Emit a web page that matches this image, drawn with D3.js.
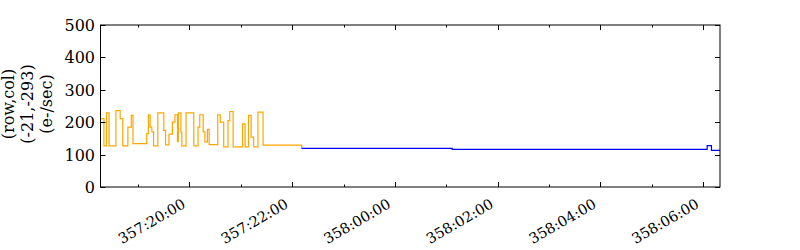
<!DOCTYPE html>
<html><head><meta charset="utf-8">
<script src="https://cdn.jsdelivr.net/npm/d3@7"></script>
<style>body{margin:0;background:#fff}</style>
</head><body>
<svg id="c" width="800" height="250"></svg>
<script>
const orangeTimes = ["357:18:16","357:18:20","357:18:23","357:18:26","357:18:34","357:18:39","357:18:42","357:18:48","357:18:52","357:18:54",
  "357:19:10","357:19:12","357:19:14","357:19:16","357:19:18","357:19:23","357:19:30","357:19:32","357:19:36","357:19:40",
  "357:19:43","357:19:46","357:19:47","357:19:50","357:19:51","357:19:56","357:20:05","357:20:10","357:20:12","357:20:16",
  "357:20:18","357:20:21","357:20:23","357:20:33","357:20:36","357:20:40","357:20:45","357:20:47","357:20:51","357:21:02",
  "357:21:05","357:21:09","357:21:12","357:21:15","357:21:20","357:21:26","357:22:11"];
const orangeValues = [211,127,229,127,236,211,127,185,221,134,
  165,223,185,170,127,229,175,130,163,200,
  223,140,229,170,127,229,127,185,223,170,
  139,178,131,223,200,124,205,233,124,195,
  124,221,154,124,231,129,119];
const blueTimes = ["357:22:11","358:01:07","358:06:05","358:06:10","358:06:20"];
const blueValues = [119,116,128,113,113];
const xTickLabels = ["357:20:00","357:22:00","358:00:00","358:02:00","358:04:00","358:06:00"];
const xMinorLabels = ["357:19:00","357:21:00","357:23:00","358:01:00","358:03:00","358:05:00"];
const yTicks = [0,100,200,300,400,500];
const yLabelLines = ["(row,col)","(-21,-293)","(e-/sec)"];

const toMin = s => { const p = s.split(":").map(Number); return p[0]*1440 + p[1]*60 + p[2]; };

const L = 100.5, R = 720, T = 25, B = 187;
const svg = d3.select("#c");
const font = "DejaVu Serif";

const x = d3.scaleLinear().domain([toMin(orangeTimes[0]), toMin(blueTimes[blueTimes.length-1])]).range([L, R]);
const y = d3.scaleLinear().domain([0, 500]).range([B, T]);

const line = d3.line().x(d => x(d[0])).y(d => y(d[1])).curve(d3.curveStepAfter);
const oData = orangeTimes.map((t,i) => [toMin(t), orangeValues[i]]);
const bData = blueTimes.map((t,i) => [toMin(t), blueValues[i]]);

svg.append("path").attr("d", line(oData)).attr("fill","none").attr("stroke","#FFA500").attr("stroke-width",1.2);
svg.append("path").attr("d", line(bData)).attr("fill","none").attr("stroke","#0000FF").attr("stroke-width",1.2);

// frame
svg.append("rect").attr("x",L).attr("y",T).attr("width",R-L).attr("height",B-T)
  .attr("fill","none").attr("stroke","#000").attr("stroke-width",1);

const g = svg.append("g").attr("stroke","#000").attr("stroke-width",1);
// x ticks
xTickLabels.forEach(s => {
  const px = Math.round(x(toMin(s))) + 0.5;
  g.append("line").attr("x1",px).attr("x2",px).attr("y1",B).attr("y2",B-5);
  g.append("line").attr("x1",px).attr("x2",px).attr("y1",T).attr("y2",T+5);
});
xMinorLabels.forEach(s => {
  const px = Math.round(x(toMin(s))) + 0.5;
  g.append("line").attr("x1",px).attr("x2",px).attr("y1",B).attr("y2",B-2.5);
  g.append("line").attr("x1",px).attr("x2",px).attr("y1",T).attr("y2",T+2.5);
});
// y ticks
yTicks.forEach(v => {
  const py = Math.round(y(v)) + 0.5;
  g.append("line").attr("x1",L).attr("x2",L+5).attr("y1",py).attr("y2",py);
  g.append("line").attr("x1",R).attr("x2",R-5).attr("y1",py).attr("y2",py);
  svg.append("text").attr("x",95).attr("y",py).attr("dy","0.36em").attr("text-anchor","end")
    .attr("font-family",font).attr("font-size",16).attr("fill","#000").text(v);
});
// x tick labels rotated
xTickLabels.forEach(s => {
  const px = x(toMin(s));
  const ax = px - 3, ay = 207;
  svg.append("text").attr("x",ax).attr("y",ay).attr("text-anchor","end")
    .attr("transform",`rotate(-30,${ax},${ay})`)
    .attr("font-family",font).attr("font-size",14.5).attr("fill","#000").text(s);
});
// y label
yLabelLines.forEach((s,i) => {
  const cx = 14 + i*19, cy = 104;
  svg.append("text").attr("x",cx).attr("y",cy).attr("text-anchor","middle")
    .attr("transform",`rotate(-90,${cx},${cy})`)
    .attr("font-family",font).attr("font-size",16).attr("fill","#000").text(s);
});
</script>
</body></html>
